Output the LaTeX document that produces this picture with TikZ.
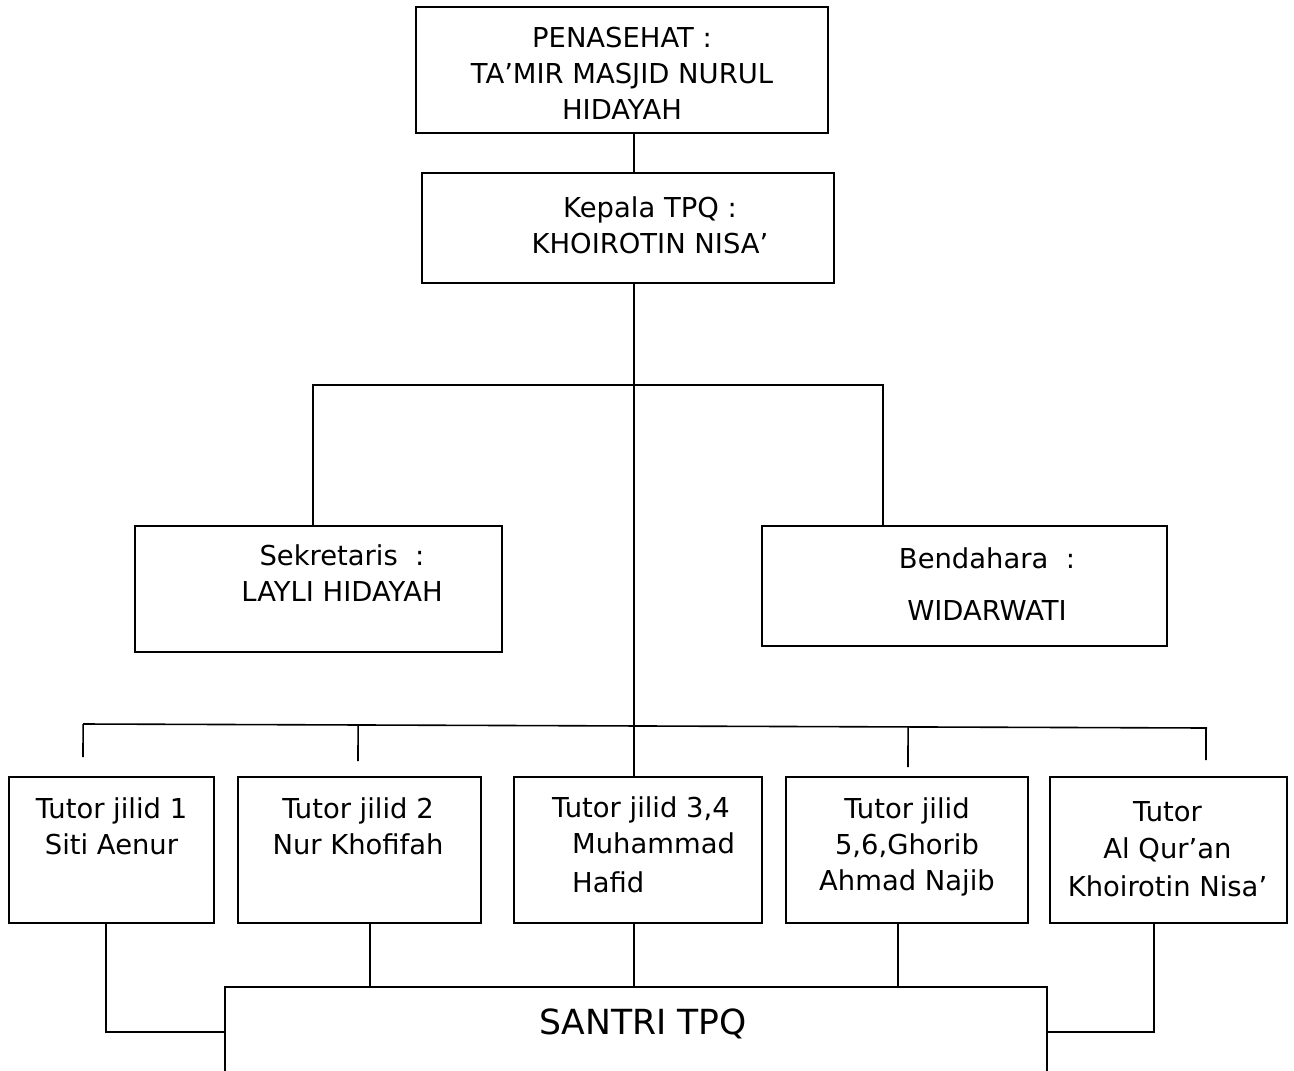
\documentclass[tikz,border=0pt]{standalone}
\usepackage{fontspec}
\setmainfont{DejaVu Sans}
\usetikzlibrary{calc}

\tikzset{
  box/.style={draw, line width=2pt, inner sep=0pt},
  txt/.style={anchor=north, align=center, inner sep=0pt, font=\fontsize{27.4}{36}\selectfont},
  link/.style={line width=1.6pt}
}

\begin{document}
\begin{tikzpicture}[x=1pt, y=-1pt]
\useasboundingbox (0,0) rectangle (1294,1071);

% kotak pengurus
\node [box, minimum width=412pt, minimum height=126pt] (penasehat) at (622,70) {};
\node [box, minimum width=412pt, minimum height=110pt] (kepala) at (628,228) {};
\node [box, minimum width=367pt, minimum height=126pt] (sekretaris) at (318.5,589) {};
\node [box, minimum width=405pt, minimum height=120pt] (bendahara) at (964.5,586) {};

\foreach \x/\w [count=\i] in {111.5/205, 359.5/243, 638/248, 907/242, 1168.5/237}
  \node [box, minimum width=\w pt, minimum height=146pt] (tutor-\i) at (\x,850) {};

\node [box, minimum width=822pt, minimum height=123pt] (santri) at (636,1048.5) {};

% teks
\node [txt, shift={(0,21)}] (penasehat-txt) at (penasehat.north)
  {PENASEHAT :\\ TA’MIR MASJID NURUL\\ HIDAYAH};
\node [txt, shift={(22,24)}] (kepala-txt) at (kepala.north)
  {Kepala TPQ :\\ KHOIROTIN NISA’};
\node [txt, shift={(23.5,19)}] (sekretaris-txt) at (sekretaris.north)
  {Sekretaris\ \ :\\ LAYLI HIDAYAH};
\node [txt, shift={(22.5,22)}] (bendahara-txt) at (bendahara.north)
  {Bendahara\ \ :\\[16pt] WIDARWATI};

\node [txt, shift={(0,21)}] (tutor-1-txt) at (tutor-1.north) {Tutor jilid 1\\ Siti Aenur};
\node [txt, shift={(-1.5,21)}] (tutor-2-txt) at (tutor-2.north) {Tutor jilid 2\\ Nur Khofifah};
\node [txt, anchor=north west, align=left, shift={(-86,20)}] (tutor-3-txt) at (tutor-3.north)
  {Tutor jilid 3,4\\ \hspace*{20pt}Muhammad\\[3pt] \hspace*{20pt}Hafid};
\node [txt, shift={(0,21)}] (tutor-4-txt) at (tutor-4.north) {Tutor jilid\\ 5,6,Ghorib\\ Ahmad Najib};
\node [txt, shift={(-1,25)}] (tutor-5-txt) at (tutor-5.north) {Tutor\\[1.5pt] Al Qur’an\\[1.5pt] Khoirotin Nisa’};

\node [txt, font=\fontsize{34.6}{40}\selectfont, shift={(7,23)}] (santri-txt) at (santri.north) {SANTRI TPQ};

% garis
\coordinate (spine) at (634,0);
\draw [link] (penasehat.south -| spine) -- (kepala.north -| spine);
\draw [link] (kepala.south -| spine) -- (tutor-3.north -| spine);

\coordinate (bar-l) at (313,385);
\coordinate (bar-r) at (883,385);
\draw [link] (sekretaris.north -| bar-l) -- (bar-l) -- (bar-r) -- (bendahara.north -| bar-r);

\coordinate (tbar-l) at (83,724);
\coordinate (tbar-r) at (1207,728);
\draw [link] (tbar-l) -- (tbar-r);
\foreach \n/\dx/\gap in {1/-28.5/19, 2/-1.5/15, 4/1/9, 5/37.5/16} {
  \coordinate (drop-\n) at ([shift={(\dx,-\gap)}]tutor-\n.north);
  \draw [link] (drop-\n) -- ($(tbar-l)!(drop-\n)!(tbar-r)$);
}

% ke santri
\coordinate (j-l) at (106,1032);
\coordinate (j-r) at (1154,1032);
\draw [link] (tutor-1.south -| j-l) |- (santri.west |- j-l);
\draw [link] (tutor-5.south -| j-r) |- (santri.east |- j-r);
\foreach \n/\x in {2/370, 3/634, 4/898} {
  \coordinate (k-\n) at (\x,0);
  \draw [link] (tutor-\n.south -| k-\n) -- (santri.north -| k-\n);
}

\end{tikzpicture}
\end{document}
